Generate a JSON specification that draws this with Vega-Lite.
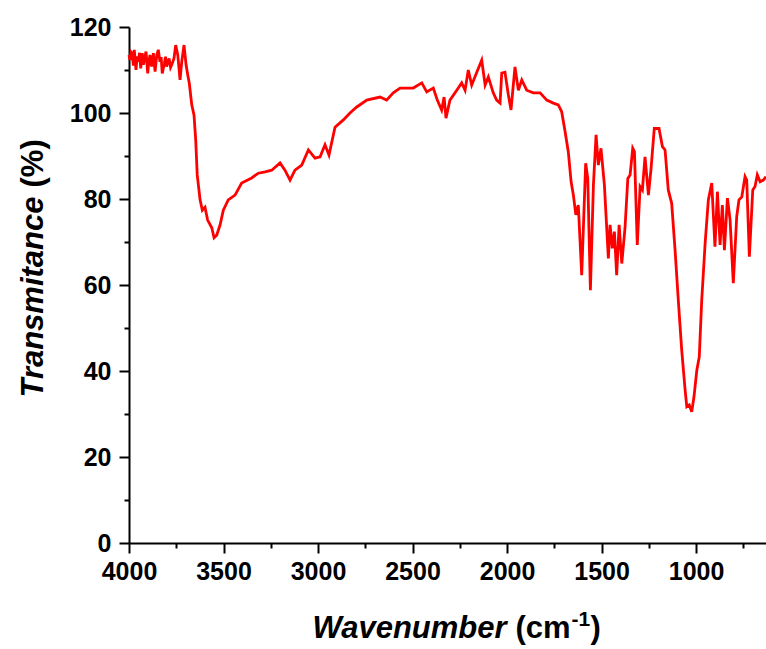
{
  "$schema": "https://vega.github.io/schema/vega-lite/v6.json",
  "width": 637,
  "height": 516,
  "autosize": {"type": "none"},
  "padding": {"left": 129, "top": 27, "right": 0, "bottom": 106},
  "config": {"view": {"stroke": null}, "font": "Liberation Sans"},
  "data": {"values": [
    {"wn":4000,"t":113.5},{"wn":3995,"t":112.3},{"wn":3989,"t":114.2},{"wn":3983,"t":113.9},{"wn":3977,"t":111.0},{"wn":3972,"t":114.7},{"wn":3963,"t":110},{"wn":3957,"t":113.2},{"wn":3951,"t":111.9},{"wn":3944,"t":114.0},{"wn":3938,"t":110.4},{"wn":3930,"t":113.9},{"wn":3924,"t":111.2},{"wn":3919,"t":112.3},{"wn":3910,"t":114.3},{"wn":3901,"t":109.2},{"wn":3895,"t":112.0},{"wn":3889,"t":113.5},{"wn":3880,"t":110.8},{"wn":3871,"t":113.9},{"wn":3866,"t":111.5},{"wn":3862,"t":109.6},{"wn":3853,"t":113.5},{"wn":3845,"t":114.7},{"wn":3836,"t":111.9},{"wn":3830,"t":113.0},{"wn":3824,"t":109.2},{"wn":3813,"t":111.5},{"wn":3807,"t":113.1},{"wn":3801,"t":110.8},{"wn":3788,"t":112.7},{"wn":3780,"t":110.6},{"wn":3774,"t":111.2},{"wn":3762,"t":112.7},{"wn":3753,"t":115.8},{"wn":3742,"t":113.5},{"wn":3730,"t":107.7},{"wn":3721,"t":111.9},{"wn":3709,"t":115.8},{"wn":3698,"t":111.2},{"wn":3689,"t":108.8},{"wn":3681,"t":106.9},{"wn":3668,"t":101.9},{"wn":3656,"t":99.5},{"wn":3647,"t":93.7},{"wn":3639,"t":85.6},{"wn":3624,"t":79.8},{"wn":3612,"t":77.4},{"wn":3598,"t":78.1},{"wn":3584,"t":75.1},{"wn":3562,"t":73.3},{"wn":3550,"t":71.0},{"wn":3536,"t":71.6},{"wn":3518,"t":74},{"wn":3501,"t":77.4},{"wn":3475,"t":79.8},{"wn":3439,"t":80.9},{"wn":3404,"t":83.7},{"wn":3351,"t":84.9},{"wn":3316,"t":86},{"wn":3280,"t":86.3},{"wn":3245,"t":86.7},{"wn":3201,"t":88.4},{"wn":3175,"t":86.7},{"wn":3148,"t":84.4},{"wn":3122,"t":86.7},{"wn":3086,"t":87.9},{"wn":3051,"t":91.4},{"wn":3016,"t":89.5},{"wn":2989,"t":89.8},{"wn":2963,"t":92.6},{"wn":2942,"t":90.2},{"wn":2919,"t":94.9},{"wn":2910,"t":96.7},{"wn":2866,"t":98.4},{"wn":2831,"t":100},{"wn":2795,"t":101.4},{"wn":2742,"t":103},{"wn":2672,"t":103.7},{"wn":2637,"t":103},{"wn":2602,"t":104.7},{"wn":2566,"t":105.8},{"wn":2496,"t":105.8},{"wn":2451,"t":107},{"wn":2425,"t":104.9},{"wn":2390,"t":105.8},{"wn":2369,"t":103},{"wn":2346,"t":100.7},{"wn":2333,"t":103.7},{"wn":2323,"t":98.8},{"wn":2302,"t":103},{"wn":2266,"t":105.3},{"wn":2240,"t":107},{"wn":2222,"t":105.3},{"wn":2205,"t":110},{"wn":2187,"t":106.5},{"wn":2160,"t":109.5},{"wn":2134,"t":112.3},{"wn":2116,"t":106.5},{"wn":2099,"t":108.4},{"wn":2073,"t":104.7},{"wn":2055,"t":103},{"wn":2037,"t":102.3},{"wn":2028,"t":109.3},{"wn":2011,"t":109.5},{"wn":1993,"t":104.2},{"wn":1979,"t":100.7},{"wn":1958,"t":110.7},{"wn":1940,"t":105.3},{"wn":1922,"t":107.7},{"wn":1896,"t":105.3},{"wn":1861,"t":104.7},{"wn":1825,"t":104.7},{"wn":1790,"t":103},{"wn":1755,"t":102.3},{"wn":1729,"t":101.9},{"wn":1711,"t":100.3},{"wn":1693,"t":95.7},{"wn":1676,"t":91},{"wn":1661,"t":84},{"wn":1649,"t":80.9},{"wn":1636,"t":76.3},{"wn":1623,"t":78.6},{"wn":1605,"t":62.3},{"wn":1584,"t":88.3},{"wn":1573,"t":84.8},{"wn":1559,"t":58.8},{"wn":1543,"t":83.3},{"wn":1529,"t":94.9},{"wn":1517,"t":87.9},{"wn":1503,"t":91.8},{"wn":1485,"t":83.3},{"wn":1464,"t":66.2},{"wn":1455,"t":74},{"wn":1443,"t":68.5},{"wn":1432,"t":72.4},{"wn":1420,"t":62.3},{"wn":1407,"t":74},{"wn":1393,"t":65},{"wn":1376,"t":73.2},{"wn":1361,"t":84.8},{"wn":1349,"t":85.6},{"wn":1335,"t":91.8},{"wn":1326,"t":91},{"wn":1311,"t":69.3},{"wn":1296,"t":82.9},{"wn":1284,"t":82.1},{"wn":1270,"t":89.8},{"wn":1252,"t":80.9},{"wn":1238,"t":87.1},{"wn":1221,"t":96.4},{"wn":1196,"t":96.4},{"wn":1178,"t":92.2},{"wn":1164,"t":91.4},{"wn":1147,"t":82.1},{"wn":1129,"t":79},{"wn":1111,"t":68.1},{"wn":1094,"t":56.5},{"wn":1076,"t":44.9},{"wn":1058,"t":35.6},{"wn":1049,"t":31.7},{"wn":1036,"t":32.1},{"wn":1023,"t":30.5},{"wn":1011,"t":34},{"wn":996,"t":40.2},{"wn":983,"t":43.3},{"wn":970,"t":56.5},{"wn":952,"t":69.7},{"wn":935,"t":79.8},{"wn":917,"t":83.7},{"wn":900,"t":68.9},{"wn":887,"t":81.7},{"wn":873,"t":69.3},{"wn":861,"t":78.6},{"wn":850,"t":68.1},{"wn":834,"t":80.2},{"wn":820,"t":75.1},{"wn":803,"t":60.4},{"wn":785,"t":75.9},{"wn":773,"t":79.8},{"wn":758,"t":80.5},{"wn":741,"t":85.2},{"wn":732,"t":84.4},{"wn":718,"t":66.6},{"wn":700,"t":82.1},{"wn":688,"t":82.9},{"wn":676,"t":85.6},{"wn":661,"t":84},{"wn":644,"t":84.4},{"wn":630,"t":85.2}
  ]},
  "resolve": {"axis": {"x": "independent", "y": "independent"}},
  "layer": [
    {
      "mark": {"type": "line", "color": "#ff0000", "strokeWidth": 2.8},
      "encoding": {
        "x": {"field": "wn", "type": "quantitative",
          "scale": {"domain": [630, 4000], "reverse": true, "nice": false, "zero": false},
          "axis": {"orient": "bottom", "values": [4000,3500,3000,2500,2000,1500,1000], "format": "d", "grid": false,
            "labelFont": "Liberation Sans", "labelFontSize": 25, "labelFontWeight": "bold", "labelColor": "black", "labelPadding": 6, "labelFlush": false,
            "tickSize": 10, "tickWidth": 2, "tickColor": "black", "domainColor": "black", "domainWidth": 2,
            "title": "Wavenumber", "titleFont": "Liberation Sans", "titleFontSize": 31, "titleFontWeight": "bold", "titleFontStyle": "italic", "titleColor": "black",
            "titleX": 183, "titleY": 94, "titleAlign": "left", "titleBaseline": "alphabetic", "titleAngle": 0}},
        "y": {"field": "t", "type": "quantitative",
          "scale": {"domain": [0, 120], "nice": false},
          "axis": {"orient": "left", "values": [0,20,40,60,80,100,120], "format": "d", "grid": false,
            "labelFont": "Liberation Sans", "labelFontSize": 25, "labelFontWeight": "bold", "labelColor": "black", "labelPadding": 8, "labelFlush": false,
            "tickSize": 10, "tickWidth": 2, "tickColor": "black", "domainColor": "black", "domainWidth": 2,
            "title": "Transmitance", "titleFont": "Liberation Sans", "titleFontSize": 31, "titleFontWeight": "bold", "titleFontStyle": "italic", "titleColor": "black",
            "titleX": -87, "titleY": 370, "titleAlign": "left", "titleBaseline": "alphabetic", "titleAngle": -90}}
      }
    },
    {
      "mark": {"type": "line", "opacity": 0},
      "encoding": {
        "x": {"field": "wn", "type": "quantitative",
          "scale": {"domain": [630, 4000], "reverse": true, "nice": false, "zero": false},
          "axis": {"orient": "bottom", "values": [3750,3250,2750,2250,1750,1250,750], "grid": false, "labels": false, "domain": false,
            "tickSize": 5, "tickWidth": 2, "tickColor": "black",
            "title": "(cm", "titleFont": "Liberation Sans", "titleFontSize": 31, "titleFontWeight": "bold", "titleFontStyle": "normal", "titleColor": "black",
            "titleX": 386, "titleY": 94, "titleAlign": "left", "titleBaseline": "alphabetic", "titleAngle": 0}},
        "y": {"field": "t", "type": "quantitative",
          "scale": {"domain": [0, 120], "nice": false},
          "axis": {"orient": "left", "values": [10,30,50,70,90,110], "grid": false, "labels": false, "domain": false,
            "tickSize": 5, "tickWidth": 2, "tickColor": "black",
            "title": "(%)", "titleFont": "Liberation Sans", "titleFontSize": 31, "titleFontWeight": "bold", "titleFontStyle": "normal", "titleColor": "black",
            "titleX": -87, "titleY": 160, "titleAlign": "left", "titleBaseline": "alphabetic", "titleAngle": -90}}
      }
    },
    {
      "mark": {"type": "line", "opacity": 0},
      "encoding": {
        "x": {"field": "wn", "type": "quantitative",
          "scale": {"domain": [630, 4000], "reverse": true, "nice": false, "zero": false},
          "axis": {"orient": "bottom", "grid": false, "labels": false, "domain": false, "ticks": false,
            "title": "-1", "titleFont": "Liberation Sans", "titleFontSize": 21, "titleFontWeight": "bold", "titleFontStyle": "normal", "titleColor": "black",
            "titleX": 442, "titleY": 82, "titleAlign": "left", "titleBaseline": "alphabetic", "titleAngle": 0}},
        "y": {"field": "t", "type": "quantitative", "scale": {"domain": [0, 120], "nice": false}, "axis": null}
      }
    },
    {
      "mark": {"type": "line", "opacity": 0},
      "encoding": {
        "x": {"field": "wn", "type": "quantitative",
          "scale": {"domain": [630, 4000], "reverse": true, "nice": false, "zero": false},
          "axis": {"orient": "bottom", "grid": false, "labels": false, "domain": false, "ticks": false,
            "title": ")", "titleFont": "Liberation Sans", "titleFontSize": 31, "titleFontWeight": "bold", "titleFontStyle": "normal", "titleColor": "black",
            "titleX": 461, "titleY": 94, "titleAlign": "left", "titleBaseline": "alphabetic", "titleAngle": 0}},
        "y": {"field": "t", "type": "quantitative", "scale": {"domain": [0, 120], "nice": false}, "axis": null}
      }
    }
  ]
}
